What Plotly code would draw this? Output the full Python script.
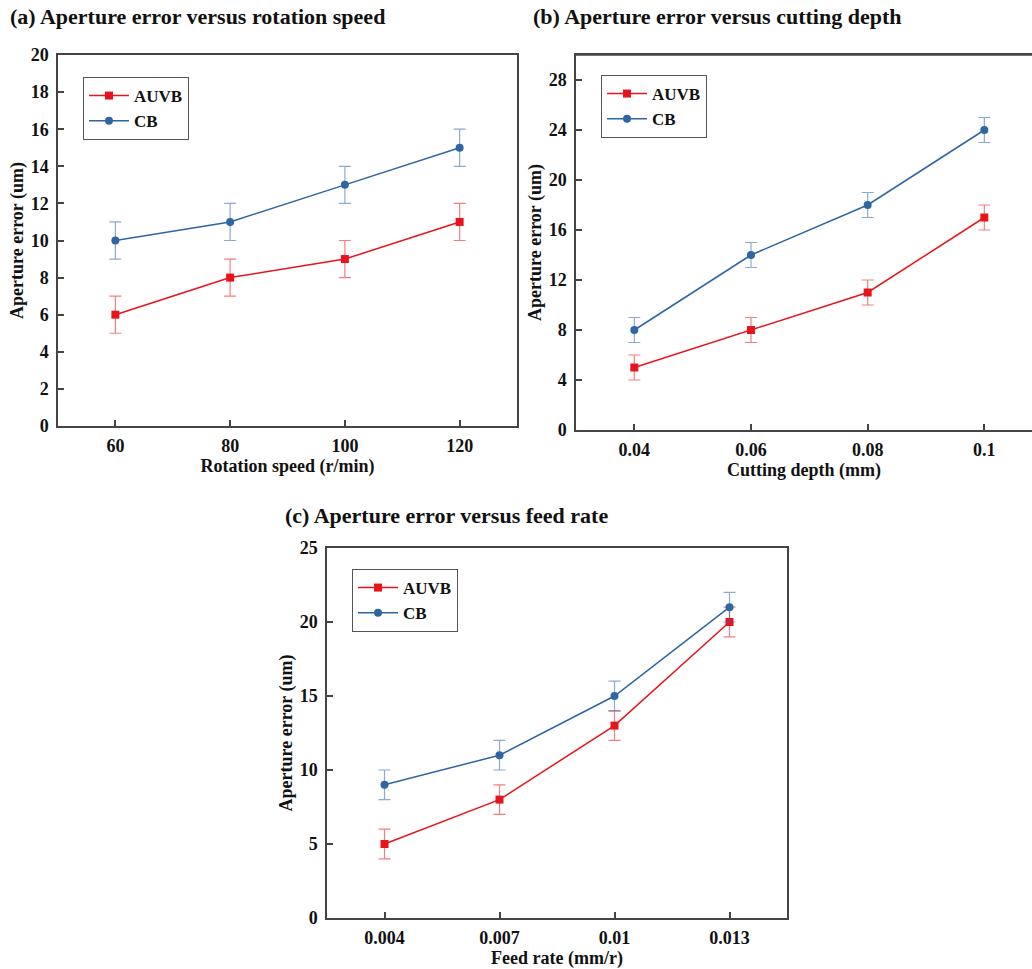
import plotly.graph_objects as go

# Measured aperture errors (um) with +/-1 um error bars
speed = [60, 80, 100, 120]
speed_auvb = [6, 8, 9, 11]
speed_cb = [10, 11, 13, 15]

depth = [0.04, 0.06, 0.08, 0.1]
depth_auvb = [5, 8, 11, 17]
depth_cb = [8, 14, 18, 24]

feed = [0.004, 0.007, 0.01, 0.013]
feed_auvb = [5, 8, 13, 20]
feed_cb = [9, 11, 15, 21]

err = [1, 1, 1, 1]

W, H = 1032, 969
SERIF = "Liberation Serif, Times New Roman, serif"
RED = "#e8141c"
BLUE = "#2e65a3"
RED_ERR = "rgba(232,20,28,0.55)"
BLUE_ERR = "rgba(46,101,163,0.55)"
AXC = "#444444"
TXT = "#111111"


def px_x(x):
    return x / W


def px_y(y):
    return (H - y) / H


fig = go.Figure()


def add_pair(x, auvb, cb, xa, ya, legend):
    fig.add_trace(go.Scatter(
        x=x, y=auvb, name="<b>AUVB</b>", mode="lines+markers",
        line=dict(color=RED, width=1.5),
        marker=dict(symbol="square", size=8, color=RED),
        error_y=dict(type="data", array=err, color=RED_ERR, thickness=1.2, width=6),
        xaxis=xa, yaxis=ya, legend=legend,
    ))
    fig.add_trace(go.Scatter(
        x=x, y=cb, name="<b>CB</b>", mode="lines+markers",
        line=dict(color=BLUE, width=1.5),
        marker=dict(symbol="circle", size=8, color=BLUE),
        error_y=dict(type="data", array=err, color=BLUE_ERR, thickness=1.2, width=6),
        xaxis=xa, yaxis=ya, legend=legend,
    ))


add_pair(speed, speed_auvb, speed_cb, "x", "y", "legend")
add_pair(depth, depth_auvb, depth_cb, "x2", "y2", "legend2")
add_pair(feed, feed_auvb, feed_cb, "x3", "y3", "legend3")

tickfont = dict(family=SERIF, size=18, color=TXT)
titlefont = dict(family=SERIF, size=18, color=TXT)


def xaxis(dom, rng, vals, text, title, anchor):
    return dict(
        domain=dom, range=rng, tickvals=vals, ticktext=text, anchor=anchor,
        ticks="inside", ticklen=6, tickcolor=AXC, tickwidth=1.5,
        showline=True, linecolor=AXC, linewidth=1.5, mirror=True,
        showgrid=False, zeroline=False, tickfont=tickfont,
        ticklabelstandoff=3, automargin=False,
        title=dict(text=f"<b>{title}</b>", font=titlefont, standoff=4),
    )


def yaxis(dom, rng, dtick, anchor, mirror=True):
    return dict(
        domain=dom, range=rng, dtick=dtick, anchor=anchor,
        ticks="inside", ticklen=6, tickcolor=AXC, tickwidth=1.5,
        showline=True, linecolor=AXC, linewidth=1.5, mirror=mirror,
        showgrid=False, zeroline=False, tickfont=tickfont,
        tickprefix="<b>", ticksuffix="</b>",
        ticklabelstandoff=4, automargin=False,
        title=dict(text="<b>Aperture error (um)</b>", font=titlefont, standoff=2),
    )


def bold(lst):
    return [f"<b>{v}</b>" for v in lst]


legend_style = dict(
    font=dict(family=SERIF, size=17, color=TXT),
    bgcolor="white", bordercolor="#555555", borderwidth=1,
    xanchor="left", yanchor="top", tracegroupgap=0,
    itemwidth=40,
)

fig.update_layout(
    width=W, height=H,
    margin=dict(l=0, r=0, t=0, b=0, autoexpand=False),
    paper_bgcolor="white", plot_bgcolor="white",
    font=dict(family=SERIF),
    xaxis=xaxis([px_x(58), px_x(517)], [50, 130], speed, bold(["60", "80", "100", "120"]),
                "Rotation speed (r/min)", "y"),
    yaxis=yaxis([px_y(426), px_y(55)], [0, 20], 2, "x"),
    xaxis2=xaxis([px_x(576), 1.0], [0.03, 0.03 + (W - 576) / (350 / 0.06)], depth,
                 bold(["0.04", "0.06", "0.08", "0.1"]), "Cutting depth (mm)", "y2"),
    yaxis2=yaxis([px_y(430), px_y(55)], [0, 30], 4, "x2", mirror=False),
    xaxis3=xaxis([px_x(327), px_x(787)], [0.0025, 0.0145], feed,
                 bold(["0.004", "0.007", "0.01", "0.013"]), "Feed rate (mm/r)", "y3"),
    yaxis3=yaxis([px_y(918), px_y(548)], [0, 25], 5, "x3"),
    legend=dict(x=px_x(83), y=px_y(77), **legend_style),
    legend2=dict(x=px_x(601), y=px_y(75), **legend_style),
    legend3=dict(x=px_x(352), y=px_y(569), **legend_style),
    showlegend=True,
)

# top border for the clipped middle panel
fig.add_shape(type="line", xref="paper", yref="paper",
              x0=px_x(576), x1=1.0, y0=px_y(55), y1=px_y(55),
              line=dict(color=AXC, width=1.5))

titles = [
    ("(a) Aperture error versus rotation speed", 8, 16),
    ("(b) Aperture error versus cutting depth", 531, 16),
    ("(c) Aperture error versus feed rate", 283, 516),
]
for txt, x, y in titles:
    fig.add_annotation(text=f"<b>{txt}</b>", xref="paper", yref="paper",
                       x=px_x(x), y=px_y(y), xanchor="left", yanchor="middle",
                       showarrow=False, font=dict(family=SERIF, size=22, color=TXT))

fig.write_html("out.html")
